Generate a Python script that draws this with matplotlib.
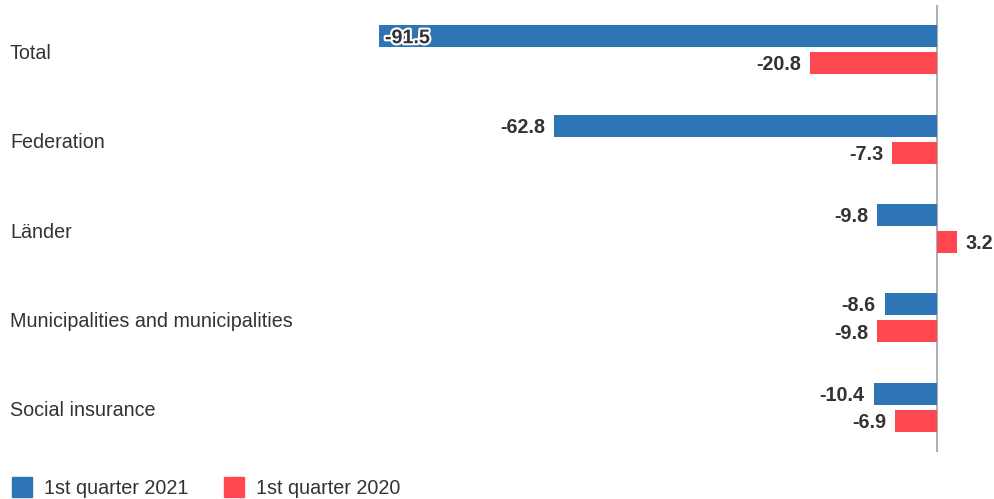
import matplotlib
matplotlib.use("Agg")
import matplotlib.pyplot as plt
import matplotlib.patheffects as pe
from matplotlib.patches import Rectangle
from matplotlib.transforms import blended_transform_factory

categories = ["Total", "Federation", "Länder",
              "Municipalities and municipalities", "Social insurance"]
q1_2021 = [-91.5, -62.8, -9.8, -8.6, -10.4]
q1_2020 = [-20.8, -7.3, 3.2, -9.8, -6.9]
series_names = ["1st quarter 2021", "1st quarter 2020"]

BLUE = "#2e75b6"
RED = "#ff4752"
TEXT = "#333333"

plt.rcParams["font.family"] = ["Liberation Sans", "DejaVu Sans"]

W, H = 994, 499
fig = plt.figure(figsize=(W / 100, H / 100), dpi=100)
ax = fig.add_axes([0, 1 - 452 / H, 1, 447 / H])

px_per_unit = 6.1
zero_px = 937
ax.set_xlim(-zero_px / px_per_unit, (W - zero_px) / px_per_unit)
ax.set_ylim(4.5, -0.5)
ax.axis("off")

offset = 0.152
bh = 0.246
pos = list(range(len(categories)))

ax.barh([p - offset for p in pos], q1_2021, height=bh, color=BLUE)
ax.barh([p + offset for p in pos], q1_2020, height=bh, color=RED)
ax.axvline(0, color="#b0b0b0", lw=1.5, zorder=0)

gap = 9 / px_per_unit
fs = 14.2
dy = 0.018
for series, sign in ((q1_2021, -1), (q1_2020, 1)):
    for p, v in zip(pos, series):
        y = p + sign * offset + dy
        if v <= -80:
            t = ax.text(v + 1, y, f"{v:.1f}", ha="left", va="center",
                        fontsize=fs, fontweight="bold", color=TEXT)
            t.set_path_effects([pe.withStroke(linewidth=3, foreground="white")])
        elif v < 0:
            ax.text(v - gap, y, f"{v:.1f}", ha="right", va="center",
                    fontsize=fs, fontweight="bold", color=TEXT)
        else:
            ax.text(v + gap, y, f"{v:.1f}", ha="left", va="center",
                    fontsize=fs, fontweight="bold", color=TEXT)

trans = blended_transform_factory(fig.transFigure, ax.transData)
for p, c in zip(pos, categories):
    ax.text(10 / W, p + 0.04, c, transform=trans, ha="left", va="center",
            fontsize=fs, color=TEXT)

# legend
lx = 12
for name, col in zip(series_names, (BLUE, RED)):
    fig.patches.append(Rectangle((lx / W, 1 - 497 / H), 20 / W, 20 / H,
                                 transform=fig.transFigure, color=col))
    fig.text((lx + 32) / W, 1 - 488 / H, name, ha="left", va="center",
             fontsize=fs, color=TEXT)
    lx += 212

fig.savefig("out.png", dpi=100)
